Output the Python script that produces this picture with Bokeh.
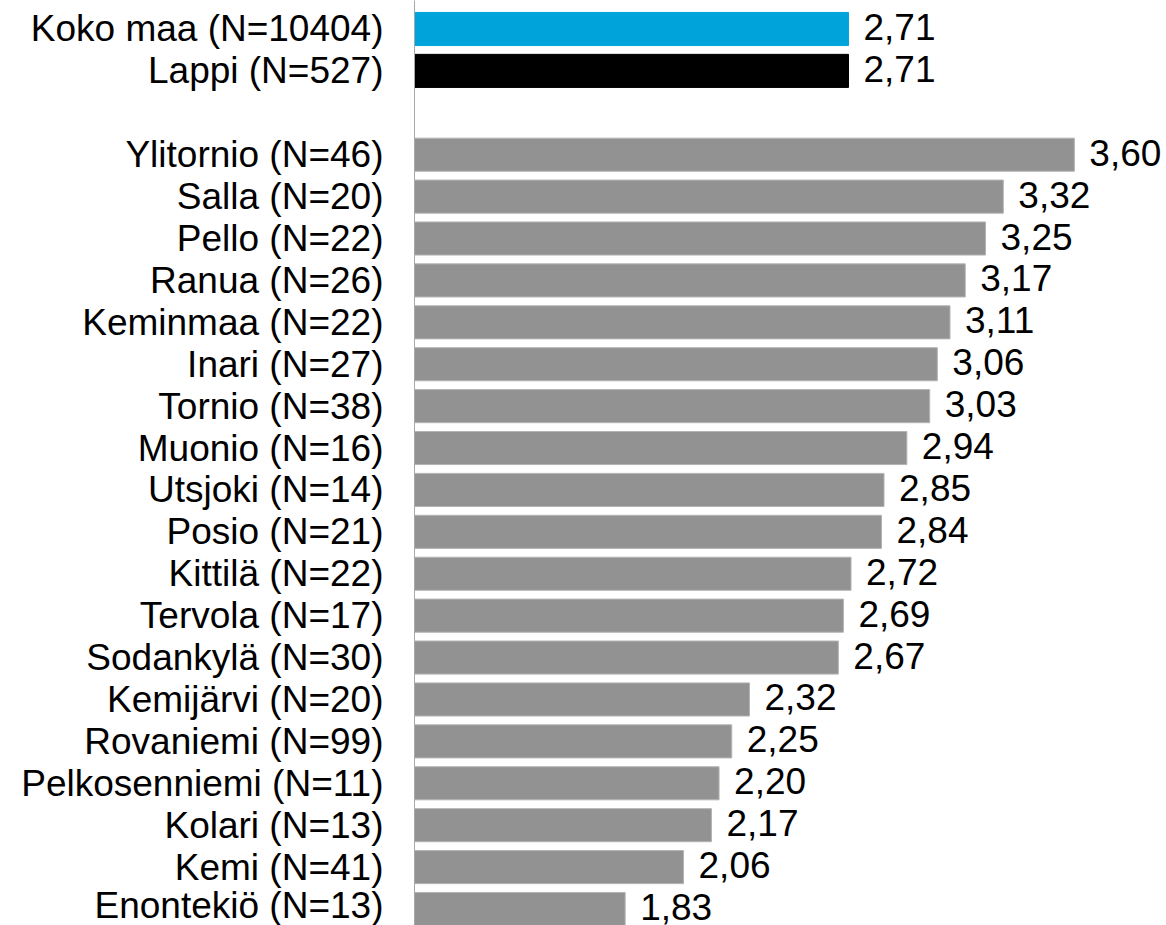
from bokeh.plotting import figure
from bokeh.models import Range1d, FixedTicker, ColumnDataSource
from bokeh.core.properties import value
from bokeh.embed import file_html
from bokeh.resources import INLINE

# ---- data ----
names = ["Koko maa", "Lappi", "Ylitornio", "Salla", "Pello", "Ranua", "Keminmaa",
         "Inari", "Tornio", "Muonio", "Utsjoki", "Posio", "Kittilä", "Tervola",
         "Sodankylä", "Kemijärvi", "Rovaniemi", "Pelkosenniemi", "Kolari", "Kemi",
         "Enontekiö"]
counts = [10404, 527, 46, 20, 22, 26, 22, 27, 38, 16, 14, 21, 22, 17, 30, 20, 99,
          11, 13, 41, 13]
values = [2.71, 2.71, 3.60, 3.32, 3.25, 3.17, 3.11, 3.06, 3.03, 2.94, 2.85, 2.84,
          2.72, 2.69, 2.67, 2.32, 2.25, 2.20, 2.17, 2.06, 1.83]
colors = ["#00A3DA", "#000000"] + ["#929292"] * 19
line_colors = ["#00A3DA", "#000000"] + ["#b4b4b4"] * 19

# row positions: blank row between Lappi and municipalities
rows = [0, 1] + list(range(3, 22))
labels = [f"{n} (N={c})" for n, c in zip(names, counts)]
texts = [f"{v:.2f}".replace(".", ",") for v in values]

src = ColumnDataSource(dict(y=rows, v=values, c=colors, lc=line_colors, t=texts))

FONT = "Liberation Sans"
BASE = 1.0

p = figure(width=1166, height=925, output_backend="svg", toolbar_location=None,
           x_range=Range1d(BASE, 3.963), y_range=Range1d(21.394, -0.680),
           x_axis_location=None, min_border_left=414, min_border_right=0,
           min_border_top=0, min_border_bottom=0)
p.outline_line_color = None
p.xgrid.visible = False
p.ygrid.visible = False

p.hbar(y="y", left=BASE, right="v", height=0.79, fill_color="c", line_color="lc",
       line_width=1, source=src)

p.text(x="v", y="y", text="t", x_offset=15, y_offset=-2, text_align="left",
       text_baseline="middle", text_font=value(FONT), text_font_size="37px",
       text_color="#000000", source=src)

ax = p.yaxis[0]
ax.ticker = FixedTicker(ticks=rows)
ax.major_label_overrides = {r: l for r, l in zip(rows, labels)}
ax.major_label_text_font = FONT
ax.major_label_text_font_size = "37px"
ax.major_label_text_color = "#000000"
ax.major_label_standoff = 31
ax.major_tick_line_color = None
ax.minor_tick_line_color = None
ax.major_tick_out = 0
ax.major_tick_in = 0
ax.axis_line_color = "#a8a8a8"
ax.axis_line_width = 1

open("out.html", "w").write(file_html(p, INLINE))
